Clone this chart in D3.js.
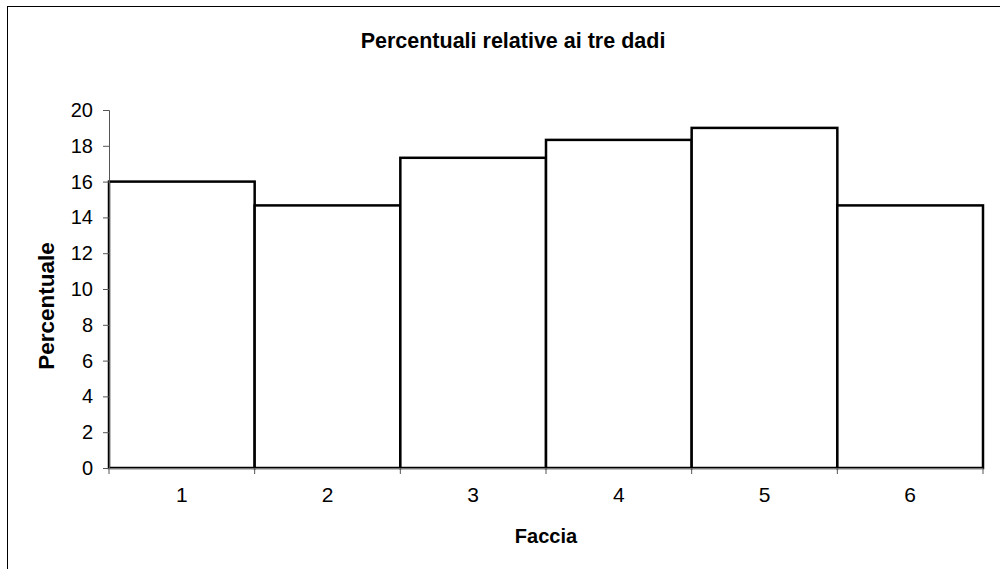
<!DOCTYPE html>
<html><head><meta charset="utf-8">
<script src="https://cdn.jsdelivr.net/npm/d3@7"></script>
<style>body{margin:0;background:#fff}svg{display:block}text{font-family:Arial,"Liberation Sans",sans-serif}</style>
</head><body>
<svg id="c" width="1000" height="569"></svg>
<script>
const categories = ["1","2","3","4","5","6"];
const values = [16, 14.67, 17.33, 18.33, 19, 14.67];
const yTicks = [0,2,4,6,8,10,12,14,16,18,20];
const title = "Percentuali relative ai tre dadi";
const xTitle = "Faccia";
const yTitle = "Percentuale";

const svg = d3.select("#c");
const L = 109, R = 983, T = 110, B = 468;

// outer chart border
svg.append("rect").attr("x",7.5).attr("y",6.5).attr("width",1100).attr("height",700)
  .attr("fill","none").attr("stroke","#000").attr("stroke-width",1);

const x = d3.scaleBand().domain(categories).range([L,R]).padding(0);
const y = d3.scaleLinear().domain([0,20]).range([B,T]);

// bars
svg.append("g").selectAll("rect").data(values).join("rect")
  .attr("x",(d,i)=>x(categories[i]))
  .attr("y",d=>y(d))
  .attr("width",x.bandwidth())
  .attr("height",d=>y(0)-y(d))
  .attr("fill","#fff").attr("stroke","#000").attr("stroke-width",2.5);

// y axis
const ya = svg.append("g").attr("transform",`translate(${L},0)`)
  .call(d3.axisLeft(y).tickValues(yTicks).tickSize(6).tickPadding(10));
ya.select(".domain").attr("stroke","#555");
ya.selectAll(".tick line").attr("stroke","#555");
ya.selectAll("text").attr("font-size",20).attr("fill","#000").attr("font-family","Arial, 'Liberation Sans', sans-serif");

// x axis
const xa = svg.append("g").attr("transform",`translate(0,${B})`)
  .call(d3.axisBottom(x).tickSize(0).tickPadding(19));
xa.select(".domain").attr("stroke","#777").attr("d",`M${L},0.5H${R}`);
xa.selectAll("text").attr("font-size",21).attr("fill","#000").attr("font-family","Arial, 'Liberation Sans', sans-serif");
// boundary ticks
const bounds = categories.map(c=>x(c)).concat([R]);
svg.append("g").selectAll("line").data(bounds).join("line")
  .attr("x1",d=>d).attr("x2",d=>d).attr("y1",B).attr("y2",B+6)
  .attr("stroke","#555").attr("stroke-width",1);

svg.append("text").attr("x",513).attr("y",48).attr("text-anchor","middle")
  .attr("font-size",21.5).attr("font-weight","bold").text(title);
svg.append("text").attr("x",546).attr("y",543).attr("text-anchor","middle")
  .attr("font-size",20).attr("font-weight","bold").text(xTitle);
svg.append("text").attr("transform","translate(54,306) rotate(-90)").attr("text-anchor","middle")
  .attr("font-size",22.5).attr("font-weight","bold").text(yTitle);
</script>
</body></html>
